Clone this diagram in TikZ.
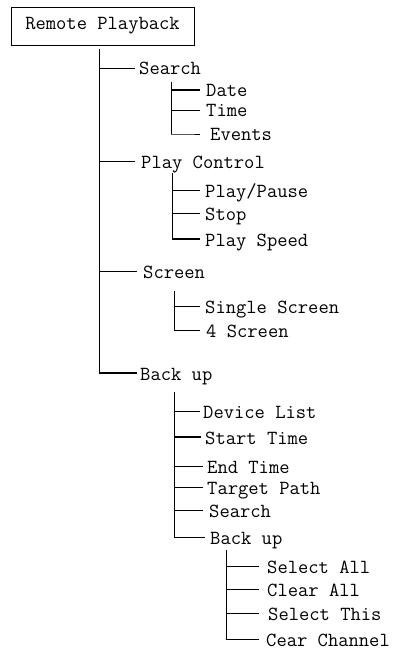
\documentclass[tikz,border=0pt]{standalone}
\usepackage{fontspec}
\begin{document}
\begin{tikzpicture}[x=1pt,y=-1pt,
  thin line/.style={line width=0.9pt},
  thick line/.style={line width=2pt},
  item/.style={anchor=west,inner xsep=5pt,inner ysep=0pt,text height=14pt,text depth=0pt,
    font=\fontsize{20}{24}\ttfamily},
  rootbox/.style={draw,line width=0.9pt,minimum width=183pt,minimum height=38pt,inner sep=0pt,
    font=\fontsize{20}{24}\ttfamily}]
\useasboundingbox (0,0) rectangle (395,655);
% root
\node[rootbox] (root) at (102.5,26) {Remote Playback};
\coordinate (v0) at (99,49);
% level 1
\node[item,inner xsep=4pt] (search) at (135,68) {Search};
\node[item,inner xsep=6pt] (play) at (135,161) {Play Control};
\node[item,inner xsep=6pt] (screen) at (137,271) {Screen};
\node[item,inner xsep=3pt] (backup) at (137,373) {Back up};
% search children
\coordinate (v1) at (171,82);
\node[item,inner xsep=6pt] (date) at (200,90) {Date};
\node[item,inner xsep=6pt] (time) at (200,110) {Time};
\node[item,inner xsep=10pt] (events) at (200,134) {Events};
% play control children
\coordinate (v2) at (172,173);
\node[item,inner xsep=5pt] (pause) at (200,190) {Play/Pause};
\node[item,inner xsep=5pt] (stop) at (200,213) {Stop};
\node[item,inner xsep=5pt] (speed) at (200,239) {Play Speed};
% screen children
\coordinate (v3) at (174,291);
\node[item,inner xsep=5pt] (single) at (200,306) {Single Screen};
\node[item,inner xsep=6pt] (four) at (200,330) {4 Screen};
% back up children
\coordinate (v4) at (174,392);
\node[item,inner xsep=3pt] (device) at (200,411) {Device List};
\node[item,inner xsep=4pt] (start) at (201,437) {Start Time};
\node[item,inner xsep=4pt] (endt) at (203,466) {End Time};
\node[item,inner xsep=4pt] (target) at (203,487) {Target Path};
\node[item,inner xsep=6pt] (search2) at (203,510) {Search};
\node[item,inner xsep=5pt] (backup2) at (205,537) {Back up};
% back up sub children
\coordinate (v5) at (226,550);
\node[item,inner xsep=8pt] (selall) at (259,566) {Select All};
\node[item,inner xsep=8pt] (clrall) at (259,589) {Clear All};
\node[item,inner xsep=9pt] (selthis) at (259,613) {Select This};
\node[item,inner xsep=7pt] (cearch) at (259,639) {Cear Channel};
% connectors
\draw[thin line] (v0) -- (v0 |- backup.west);
\draw[thin line] (v0 |- search.west) -- (search.west);
\draw[thin line] (v0 |- play.west) -- (play.west);
\draw[thin line] (v0 |- screen.west) -- (screen.west);
\draw[thick line] ([xshift=-0.5pt]v0 |- backup.west) -- (backup.west);
\draw[thin line] (v1) -- (v1 |- events.west);
\draw[thick line] (v1 |- date.west) -- (date.west);
\draw[thin line] (v1 |- time.west) -- (time.west);
\draw[thin line] (v1 |- events.west) -- ([xshift=-10pt]events.west) -- (events.west);
\draw[thin line] (v2) -- (v2 |- speed.west);
\draw[thin line] (v2 |- pause.west) -- (pause.west);
\draw[thin line] (v2 |- stop.west) -- (stop.west);
\draw[thick line] ([xshift=-0.5pt]v2 |- speed.west) -- (speed.west);
\draw[thin line] (v3) -- (v3 |- four.west);
\draw[thin line] (v3 |- single.west) -- (single.west);
\draw[thin line] (v3 |- four.west) -- (four.west);
\draw[thin line] (v4) -- (v4 |- backup2.west);
\draw[thin line] (v4 |- device.west) -- (device.west);
\draw[thick line] (v4 |- start.west) -- (start.west);
\draw[thin line] (v4 |- endt.west) -- (endt.west);
\draw[thin line] (v4 |- target.west) -- (target.west);
\draw[thin line] (v4 |- search2.west) -- (search2.west);
\draw[thin line] (v4 |- backup2.west) -- (backup2.west);
\draw[thin line] (v5) -- (v5 |- cearch.west);
\draw[thin line] (v5 |- selall.west) -- (selall.west);
\draw[thin line] (v5 |- clrall.west) -- (clrall.west);
\draw[thin line] (v5 |- selthis.west) -- (selthis.west);
\draw[thin line] (v5 |- cearch.west) -- (cearch.west);
\end{tikzpicture}
\end{document}
